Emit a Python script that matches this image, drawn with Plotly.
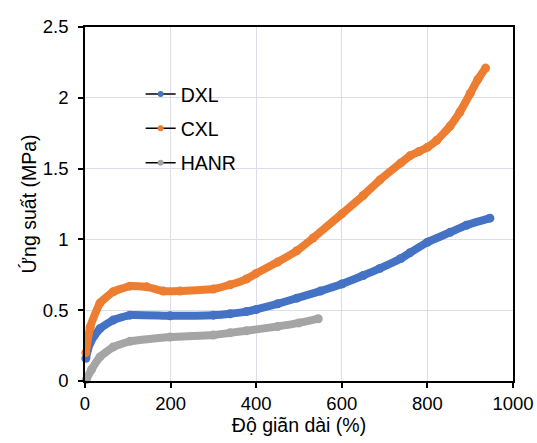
import plotly.graph_objects as go

# ---- data ----
dxl_x = [2, 12, 35, 66, 105, 199, 300, 339, 377, 400, 450, 495, 550, 600, 650, 689, 738, 759, 800, 853, 891, 946]
dxl_y = [0.16, 0.27, 0.37, 0.43, 0.465, 0.46, 0.465, 0.475, 0.49, 0.505, 0.545, 0.585, 0.635, 0.685, 0.745, 0.795, 0.865, 0.905, 0.98, 1.05, 1.10, 1.15]

cxl_x = [2, 12, 35, 66, 105, 144, 183, 222, 300, 339, 377, 400, 450, 495, 533, 600, 650, 689, 738, 759, 780, 800, 822, 853, 876, 900, 918, 936]
cxl_y = [0.20, 0.38, 0.55, 0.63, 0.67, 0.665, 0.635, 0.635, 0.65, 0.68, 0.72, 0.76, 0.84, 0.92, 1.01, 1.18, 1.31, 1.42, 1.54, 1.59, 1.62, 1.65, 1.70, 1.80, 1.90, 2.03, 2.13, 2.21]

hanr_x = [3, 15, 35, 66, 105, 199, 300, 339, 377, 450, 500, 545]
hanr_y = [0.01, 0.08, 0.17, 0.24, 0.28, 0.31, 0.325, 0.34, 0.355, 0.385, 0.41, 0.44]

names = ["DXL", "CXL", "HANR"]
colors = ["#4472C4", "#ED7D31", "#A5A5A5"]
series = [(dxl_x, dxl_y), (cxl_x, cxl_y), (hanr_x, hanr_y)]

x_ticks = [0, 200, 400, 600, 800, 1000]
y_ticks = [0, 0.5, 1, 1.5, 2, 2.5]

FONT = "Liberation Sans, Arial, sans-serif"

fig = go.Figure()

# data curves (thick band of markers look)
for (xs, ys), c, n in zip(series, colors, names):
    fig.add_trace(go.Scatter(
        x=xs, y=ys, mode="lines+markers", name=n, showlegend=False,
        line=dict(color=c, width=8, shape="spline", smoothing=0.4),
        marker=dict(color=c, size=9),
        cliponaxis=False,
    ))

# legend entries: thin black line with coloured dot
for i, (c, n) in enumerate(zip(colors, names)):
    fig.add_trace(go.Scatter(
        x=[None], y=[None], mode="lines+markers", name=n,
        legendgroup=n,
        line=dict(color="black", width=1.5),
        marker=dict(color=c, size=6),
    ))

axis_common = dict(
    showline=True, linecolor="black", linewidth=1.5, mirror=True,
    ticks="outside", ticklen=5, tickcolor="black", tickwidth=1.5,
    showgrid=True, gridcolor="#DCDDE8", gridwidth=1,
    zeroline=False, automargin=False,
    tickfont=dict(family=FONT, size=18.5, color="black"),
)

fig.update_layout(
    width=537, height=443,
    margin=dict(l=85, r=24, t=27, b=62),
    paper_bgcolor="white", plot_bgcolor="white",
    font=dict(family=FONT, color="black"),
    xaxis=dict(range=[0, 1000], tickvals=x_ticks,
               title=dict(text="Độ giãn dài (%)", font=dict(family=FONT, size=19.5), standoff=4),
               **axis_common),
    yaxis=dict(range=[0, 2.5], tickvals=y_ticks,
               title=dict(text="Ứng suất (MPa)", font=dict(family=FONT, size=19.5), standoff=1),
               ticklabelstandoff=6,
               **axis_common),
    legend=dict(x=0.13, y=0.865, xanchor="left", yanchor="top",
                font=dict(family=FONT, size=19.5, color="black"),
                bgcolor="rgba(0,0,0,0)", traceorder="grouped", tracegroupgap=6),
)

fig.write_html("out.html")
